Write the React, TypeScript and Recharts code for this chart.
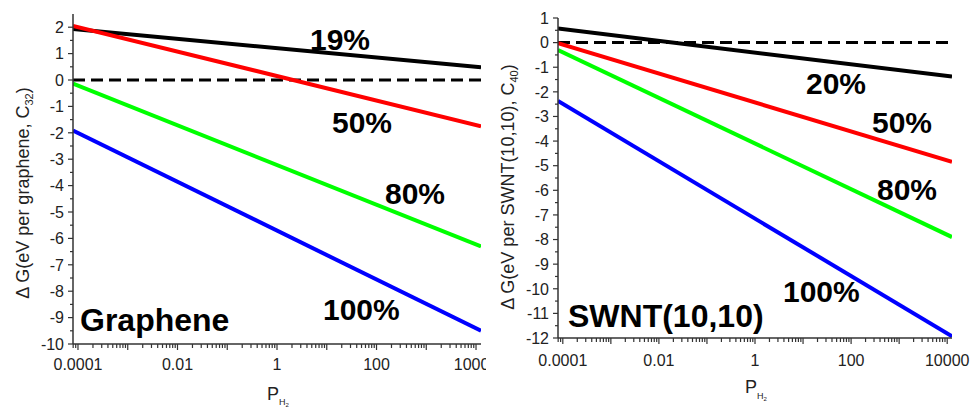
import React from "react";
import { LineChart, Line, XAxis, YAxis, ReferenceLine } from "recharts";

// ---- data ----
const pressureEnds = [0.0000794, 12589]; // P_H2 at the left / right plot edges
const graphene19 = [1.93, 0.48];
const graphene50 = [2.05, -1.75];
const graphene80 = [-0.14, -6.3];
const graphene100 = [-1.91, -9.5];
const swnt20 = [0.57, -1.38];
const swnt50 = [-0.02, -4.84];
const swnt80 = [-0.3, -7.9];
const swnt100 = [-2.37, -11.93];

const xTickValues = [0.0001, 0.01, 1, 100, 10000];
const xTickLabels = ["0.0001", "0.01", "1", "100", "10000"];
const leftYTicks = [-10, -9, -8, -7, -6, -5, -4, -3, -2, -1, 0, 1, 2];
const rightYTicks = [-12, -11, -10, -9, -8, -7, -6, -5, -4, -3, -2, -1, 0, 1];

const grapheneData = pressureEnds.map((p, i) => ({
  p,
  a: graphene19[i],
  b: graphene50[i],
  c: graphene80[i],
  d: graphene100[i],
}));
const swntData = pressureEnds.map((p, i) => ({
  p,
  a: swnt20[i],
  b: swnt50[i],
  c: swnt80[i],
  d: swnt100[i],
}));

// minor log ticks (2..9 x 10^k) plus decades
const allXTicks: number[] = [];
for (let e = -5; e <= 4; e++) {
  for (let m = 1; m <= 9; m++) {
    const v = m * Math.pow(10, e);
    if (v >= pressureEnds[0] && v <= pressureEnds[1]) allXTicks.push(v);
  }
}
const withHalves = (ints: number[]) => {
  const out: number[] = [];
  ints.forEach((v, i) => {
    out.push(v);
    if (i < ints.length - 1) out.push(v + 0.5);
  });
  return out;
};

const FONT = "'Liberation Sans', Arial, sans-serif";
const AXIS = "#333";
const TXT = "#222";

const makeXTick = (labelOffset: number) => (props: any) => {
  const { x, y, payload } = props;
  const v = payload.value as number;
  const lg = Math.log10(v);
  const isDecade = Math.abs(lg - Math.round(lg)) < 1e-6;
  const idx = xTickValues.findIndex((t) => Math.abs(Math.log10(t) - lg) < 1e-6);
  return (
    <g>
      <line x1={x} x2={x} y1={y} y2={y + (isDecade ? 6 : 4)} stroke={AXIS} strokeWidth={1.2} />
      {idx >= 0 && (
        <text x={x} y={y + labelOffset} textAnchor="middle" fontSize={16} fill={TXT} fontFamily={FONT}>
          {xTickLabels[idx]}
        </text>
      )}
    </g>
  );
};

const YTick = (props: any) => {
  const { x, y, payload } = props;
  const v = payload.value as number;
  const isInt = Math.abs(v - Math.round(v)) < 1e-6;
  return (
    <g>
      <line x1={x - (isInt ? 5 : 3)} x2={x} y1={y} y2={y} stroke={AXIS} strokeWidth={1.2} />
      {isInt && (
        <text x={x - 9} y={y} dy="0.36em" textAnchor="end" fontSize={16} fill={TXT} fontFamily={FONT}>
          {v}
        </text>
      )}
    </g>
  );
};

type PanelProps = {
  data: any[];
  width: number;
  height: number;
  margin: { top: number; right: number; bottom: number; left: number };
  yAxisWidth: number;
  yDomain: [number, number];
  yTicks: number[];
  labelOffset: number;
};

const Panel = ({ data, width, height, margin, yAxisWidth, yDomain, yTicks, labelOffset }: PanelProps) => (
  <LineChart width={width} height={height} data={data} margin={margin}>
    <XAxis
      dataKey="p"
      type="number"
      scale="log"
      domain={[pressureEnds[0], pressureEnds[1]]}
      allowDataOverflow
      ticks={allXTicks}
      interval={0}
      tickSize={0}
      tickMargin={0}
      height={40}
      tick={makeXTick(labelOffset)}
      axisLine={{ stroke: AXIS, strokeWidth: 1.5 }}
      tickLine={false}
    />
    <XAxis
      xAxisId="top"
      orientation="top"
      type="number"
      domain={[0, 1]}
      height={0}
      tick={false}
      tickLine={false}
      axisLine={{ stroke: AXIS, strokeWidth: 1.5 }}
    />
    <YAxis
      type="number"
      domain={yDomain}
      allowDataOverflow
      ticks={withHalves(yTicks)}
      interval={0}
      tickSize={0}
      tickMargin={0}
      width={yAxisWidth}
      tick={YTick}
      axisLine={{ stroke: AXIS, strokeWidth: 1.5 }}
      tickLine={false}
    />
    <YAxis
      yAxisId="right"
      orientation="right"
      type="number"
      domain={[0, 1]}
      width={0}
      tick={false}
      tickLine={false}
      axisLine={{ stroke: AXIS, strokeWidth: 1.5 }}
    />
    <ReferenceLine y={0} stroke="#000" strokeWidth={3} strokeDasharray="12 6" />
    <Line type="linear" dataKey="a" stroke="#000000" strokeWidth={4} dot={false} isAnimationActive={false} />
    <Line type="linear" dataKey="b" stroke="#ff0000" strokeWidth={4} dot={false} isAnimationActive={false} />
    <Line type="linear" dataKey="c" stroke="#00ff00" strokeWidth={4} dot={false} isAnimationActive={false} />
    <Line type="linear" dataKey="d" stroke="#0000ff" strokeWidth={4} dot={false} isAnimationActive={false} />
  </LineChart>
);

const Bold = ({ x, y, size, children }: { x: number; y: number; size: number; children: React.ReactNode }) => (
  <text x={x} y={y} fontSize={size} fontWeight="bold" fill="#000" fontFamily={FONT}>
    {children}
  </text>
);

export default function App() {
  return (
    <div style={{ position: "absolute", left: 0, top: 0, width: 970, height: 409, background: "#fff", overflow: "hidden" }}>
      <div style={{ position: "absolute", left: 0, top: 0 }}>
        <Panel
          data={grapheneData}
          width={486}
          height={409}
          margin={{ top: 14, right: 5, bottom: 25, left: 0 }}
          yAxisWidth={73}
          yDomain={[-10, 2.5]}
          yTicks={leftYTicks}
          labelOffset={26}
        />
      </div>
      <div style={{ position: "absolute", left: 486, top: 0 }}>
        <Panel
          data={swntData}
          width={484}
          height={409}
          margin={{ top: 18, right: 18, bottom: 31, left: 0 }}
          yAxisWidth={72}
          yDomain={[-12, 1]}
          yTicks={rightYTicks}
          labelOffset={28}
        />
      </div>
      <svg
        width={970}
        height={409}
        style={{ position: "absolute", left: 0, top: 0, pointerEvents: "none" }}
      >
        {/* left panel annotations */}
        <Bold x={310} y={50} size={30}>19%</Bold>
        <Bold x={332} y={133} size={30}>50%</Bold>
        <Bold x={385} y={204} size={30}>80%</Bold>
        <Bold x={323} y={320} size={30}>100%</Bold>
        <Bold x={80} y={331} size={32}>Graphene</Bold>
        {/* right panel annotations */}
        <Bold x={806} y={94} size={30}>20%</Bold>
        <Bold x={872} y={133} size={30}>50%</Bold>
        <Bold x={877} y={200} size={30}>80%</Bold>
        <Bold x={783} y={302} size={30}>100%</Bold>
        <Bold x={568} y={327} size={32}>SWNT(10,10)</Bold>

        {/* y axis titles */}
        <text
          x={29}
          y={193}
          transform="rotate(-90 29 193)"
          textAnchor="middle"
          fontSize={18}
          fill={TXT}
          fontFamily={FONT}
        >
          Δ G(eV per graphene, C
          <tspan fontSize={11} dy={4}>32</tspan>
          <tspan dy={-4}>)</tspan>
        </text>
        <text
          x={514}
          y={187}
          transform="rotate(-90 514 187)"
          textAnchor="middle"
          fontSize={18}
          fill={TXT}
          fontFamily={FONT}
        >
          Δ G(eV per SWNT(10,10), C
          <tspan fontSize={11} dy={4}>40</tspan>
          <tspan dy={-4}>)</tspan>
        </text>

        {/* x axis titles */}
        <text x={267} y={400} fontSize={18} fill={TXT} fontFamily={FONT}>
          P
          <tspan fontSize={9} dy={5}>H</tspan>
          <tspan fontSize={6} dy={2}>2</tspan>
        </text>
        <text x={745} y={393} fontSize={18} fill={TXT} fontFamily={FONT}>
          P
          <tspan fontSize={9} dy={6}>H</tspan>
          <tspan fontSize={6} dy={2}>2</tspan>
        </text>
      </svg>
    </div>
  );
}
